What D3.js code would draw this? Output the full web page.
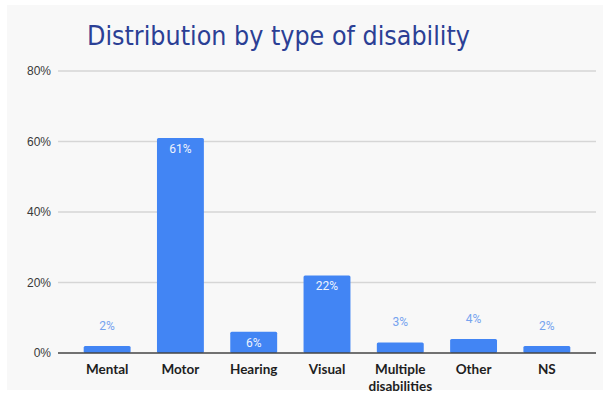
<!DOCTYPE html>
<html>
<head>
<meta charset="utf-8">
<script src="https://cdn.jsdelivr.net/npm/d3@7"></script>
<style>
  html, body { margin: 0; padding: 0; background: #ffffff; }
  svg { display: block; }
</style>
</head>
<body>
<svg id="chart" width="608" height="394"></svg>
<script>
// Share of people by type of disability (percent)
const categories = ["Mental", "Motor", "Hearing", "Visual", "Multiple disabilities", "Other", "NS"];
const shares = [2, 61, 6, 22, 3, 4, 2];
const yTicks = [0, 20, 40, 60, 80];
const titleText = "Distribution by type of disability";

const svg = d3.select("#chart");
const W = 608, H = 394;

// light panel behind the chart
svg.append("rect").attr("x", 7).attr("y", 5).attr("width", W - 12).attr("height", H - 9)
  .attr("fill", "#f8f8f8");

const x0 = 58, x1 = 596, yTop = 71, yBase = 353;

const x = d3.scaleBand().domain(categories).range([70.5, 583.5])
  .paddingInner(0.36).paddingOuter(0.18);
const y = d3.scaleLinear().domain([0, 80]).range([yBase, yTop]);

// title
svg.append("text")
  .attr("x", 87).attr("y", 45)
  .attr("font-family", "DejaVu Sans, Verdana, sans-serif")
  .attr("font-size", 27)
  .attr("fill", "#2b3f95")
  .attr("textLength", 383)
  .attr("lengthAdjust", "spacingAndGlyphs")
  .text(titleText);

// gridlines and y tick labels
const yAxis = svg.append("g");
yAxis.selectAll("line.grid").data(yTicks.filter(d => d > 0)).join("line")
  .attr("class", "grid")
  .attr("x1", x0).attr("x2", x1)
  .attr("y1", d => y(d)).attr("y2", d => y(d))
  .attr("stroke", "#d6d6d6").attr("stroke-width", 1.5);
yAxis.selectAll("text").data(yTicks).join("text")
  .attr("x", 51).attr("y", d => y(d))
  .attr("dy", "0.35em")
  .attr("text-anchor", "end")
  .attr("font-family", "Liberation Sans, Arial, sans-serif")
  .attr("font-size", 12)
  .attr("fill", "#3a3a3a")
  .text(d => d + "%");

// bars
svg.append("g").selectAll("rect").data(categories).join("rect")
  .attr("x", d => x(d))
  .attr("width", x.bandwidth())
  .attr("y", (d, i) => y(shares[i]))
  .attr("height", (d, i) => yBase - y(shares[i]))
  .attr("rx", 1.5)
  .attr("fill", "#4285f4");

// baseline
svg.append("line").attr("x1", x0).attr("x2", x1).attr("y1", yBase).attr("y2", yBase)
  .attr("stroke", "#444").attr("stroke-width", 1.5);

// value labels: inside bar when tall enough, above otherwise
svg.append("g").selectAll("text").data(categories).join("text")
  .attr("x", d => x(d) + x.bandwidth() / 2)
  .attr("y", (d, i) => shares[i] >= 5 ? y(shares[i]) + 15 : y(shares[i]) - 16)
  .attr("text-anchor", "middle")
  .attr("font-family", "Roboto, Liberation Sans, sans-serif")
  .attr("font-size", 12)
  .attr("fill", (d, i) => shares[i] >= 5 ? "#eef3fd" : "#76a3ef")
  .text((d, i) => shares[i] + "%");

// category labels (wrapping at spaces into lines)
const xl = svg.append("g").selectAll("text").data(categories).join("text")
  .attr("x", d => x(d) + x.bandwidth() / 2)
  .attr("y", 374)
  .attr("text-anchor", "middle")
  .attr("font-family", "Lato, DejaVu Sans, sans-serif")
  .attr("font-weight", "bold")
  .attr("font-size", 13.5)
  .attr("fill", "#1e1e1e");
xl.each(function(d) {
  const parts = d.split(" ");
  const t = d3.select(this);
  parts.forEach((p, j) => {
    t.append("tspan")
      .attr("x", x(d) + x.bandwidth() / 2)
      .attr("dy", j === 0 ? 0 : 16.5)
      .text(p);
  });
});
</script>
</body>
</html>
